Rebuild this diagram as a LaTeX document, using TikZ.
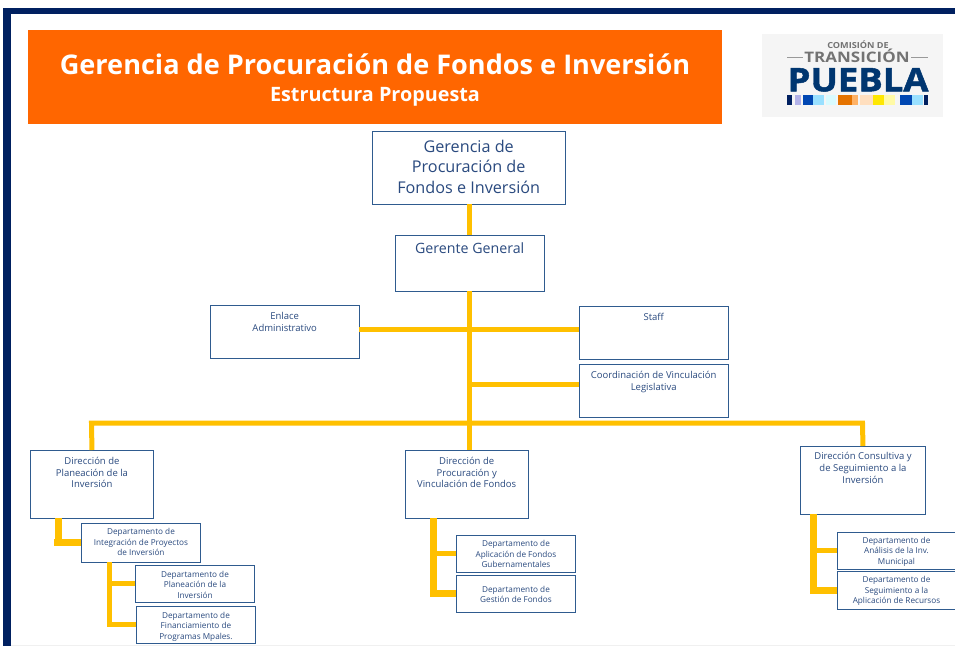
\documentclass[tikz,border=0pt]{standalone}
\usepackage{fontspec}
\setmainfont{Open Sans}
\definecolor{marino}{HTML}{002060}
\definecolor{naranja}{HTML}{FF6600}
\definecolor{oro}{HTML}{FFC000}
\definecolor{borde}{HTML}{2F5B8F}
\definecolor{letra}{HTML}{2A4A7F}
\tikzset{
  cajabox/.style={draw=borde,line width=0.9pt,anchor=north west,inner sep=0pt,fill=white},
  grande/.style={font=\fontsize{16.2}{20.8}\selectfont},
  gerentef/.style={font=\fontsize{14.2}{16}\selectfont},
  media/.style={font=\fontsize{9.5}{11.7}\selectfont},
  chica/.style={font=\fontsize{8.2}{10.4}\selectfont},
  cajatxt/.style={text=letra,align=center,anchor=north,inner sep=0pt},
  liga/.style={draw=oro,line width=5pt},
  ligab/.style={draw=oro,line width=7pt},
  logotxt/.style={inner sep=0pt,text depth=0pt,anchor=south}
}
% name, x, y, width, height, text style, gap, text
\newcommand{\caja}[8]{%
  \node[cajabox,minimum width=#4pt,minimum height=#5pt] (#1) at (#2,#3) {};
  \node[cajatxt,#6] (#1t) at ($(#1.north)+(0,#7)$) {#8};
}
\usetikzlibrary{calc}
\begin{document}
\begin{tikzpicture}[x=1pt,y=-1pt,line join=miter]
    \useasboundingbox (0,0) rectangle (955,646);
    \fill[white] (0,0) rectangle (955,646);
    \fill[marino] (3,8) rectangle (955,14);
    \fill[marino] (3,8) rectangle (11,646);
    \fill[black!6] (11,644.5) rectangle (955,646);
    % encabezado
    \node[fill=naranja,minimum width=694pt,minimum height=94pt,anchor=north west,inner sep=0pt] (banda) at (28,30) {};
    \node[text=white,font=\fontsize{27.1}{30}\selectfont\bfseries] (titulo) at (375,64) {Gerencia de Procuración de Fondos e Inversión};
    \node[text=white,font=\fontsize{19.8}{22}\selectfont\bfseries] (subtitulo) at (375,97) {Estructura Propuesta};
    % logo
    \fill[black!4] (762,34) rectangle (943,117);
    \node[logotxt,text height=6pt,text=black!55,font=\fontsize{8.3}{9}\selectfont\bfseries\addfontfeature{FakeStretch=1.1}] (comision) at (858,48.5) {COMISIÓN DE};
    \node[logotxt,text height=10.5pt,text=black!55,font=\fontsize{14.5}{15}\selectfont\bfseries\addfontfeature{FakeStretch=1.17}] (transicion) at (857,62.5) {TRANSICIÓN};
    \draw[black!40,line width=1pt] (787,57)--(803,57) (911,57)--(928,57);
    \node[logotxt,text height=23pt,text=marino!90!cyan,font=\fontsize{32.5}{34}\selectfont\bfseries\addfontfeature{FakeBold=1.5,FakeStretch=1.12}] (puebla) at (858,91.5) {PUEBLA};
    \fill[marino] (787,95) rectangle (792,105);
    \fill[black!30!blue!30] (795,95) rectangle (801,105);
    \fill[blue!60!cyan!70!black] (803,95) rectangle (813,105);
    \fill[blue!30!cyan!40] (813,95) rectangle (824,105);
    \fill[blue!10!cyan!15] (826,95) rectangle (836,105);
    \fill[orange!90!black] (838,95) rectangle (852,105);
    \fill[orange!60] (852,95) rectangle (858,105);
    \fill[orange!25] (860,95) rectangle (873,105);
    \fill[yellow!90!orange] (873,95) rectangle (884,105);
    \fill[yellow!35] (884,95) rectangle (895,105);
    \fill[blue!60!cyan!70!black] (900,95) rectangle (912,105);
    \fill[blue!30!cyan!40] (912,95) rectangle (923,105);
    \fill[marino] (924,95) rectangle (928,105);
    % ligas
    \coordinate (cruce) at (469,423);
    \coordinate (ramaA) at (469,329);
    \coordinate (ramaB) at (469,384);
    \coordinate (busI) at (91.5,423);
    \coordinate (busD) at (862.5,423);
    \coordinate (bajaP) at (58,518);
    \coordinate (tiraP) at (54,540);
    \coordinate (bajaI) at (109,562);
    \coordinate (bajaV) at (433,518);
    \coordinate (bajaC) at (813,514);
    % caja superior
    \caja{gerencia}{372}{131}{192.5}{72.5}{grande}{8.5}{Gerencia de\\Procuración de\\Fondos e Inversión}
    \caja{gerente}{395}{235}{148.5}{55.5}{gerentef}{8}{Gerente General}
    \caja{enlace}{210}{305}{148.5}{52.5}{media}{7}{Enlace\\Administrativo}
    \caja{staff}{579}{306}{148.5}{52.5}{media}{7}{Staff}
    \caja{coord}{579}{364}{148.5}{52.5}{media}{7.5}{Coordinación de Vinculación\\Legislativa}
    \caja{dirP}{30}{450}{123}{68}{media}{7}{Dirección de\\Planeación de la\\Inversión}
    \caja{dirV}{405}{450}{122.5}{68}{media}{7}{Dirección de\\Procuración y\\Vinculación de Fondos}
    \caja{dirC}{800}{446}{125}{68}{media}{6.5}{Dirección Consultiva y\\de Seguimiento a la\\Inversión}
    \caja{depI}{81}{523}{119}{39}{chica}{5.5}{Departamento de\\Integración de Proyectos\\de Inversión}
    \caja{depP}{135}{565}{119}{37}{chica}{6}{Departamento de\\Planeación de la\\Inversión}
    \caja{depF}{136}{606}{119}{37}{chica}{6}{Departamento de\\Financiamiento de\\Programas Mpales.}
    \caja{depA}{456}{535}{119}{37}{chica}{5.5}{Departamento de\\Aplicación de Fondos\\Gubernamentales}
    \caja{depG}{456}{575}{119}{37}{chica}{11}{Departamento de\\Gestión de Fondos}
    \caja{depM}{837}{532}{118}{37}{chica}{5}{Departamento de\\Análisis de la Inv.\\Municipal}
    \caja{depS}{837}{571}{118}{38}{chica}{5.5}{Departamento de\\Seguimiento a la\\Aplicación de Recursos}
    \draw[liga] (cruce |- gerencia.south)--(cruce |- gerente.north);
    \draw[liga] (cruce |- gerente.south)--(cruce);
    \draw[liga] (cruce)--(dirV.north -| cruce);
    \draw[liga] (enlace.east |- ramaA)--(staff.west |- ramaA);
    \draw[liga] (ramaB)--(coord.west |- ramaB);
    \draw[liga] (dirP.north)--(busI)--(busD)--(dirC.north);
    \draw[ligab] (bajaP)--(bajaP |- depI.west) (tiraP |- depI.west)--(depI.west);
    \draw[liga] (bajaI)--(bajaI |- depF.west)--(depF.west);
    \draw[liga] (bajaI |- depP.west)--(depP.west);
    \draw[ligab] (bajaV)--(bajaV |- depG.west)--(depG.west);
    \draw[liga] (bajaV |- depA.west)--(depA.west);
    \draw[ligab] (bajaC)--(bajaC |- depS.west)--(depS.west);
    \draw[liga] (bajaC |- depM.west)--(depM.west);
\end{tikzpicture}
\end{document}
